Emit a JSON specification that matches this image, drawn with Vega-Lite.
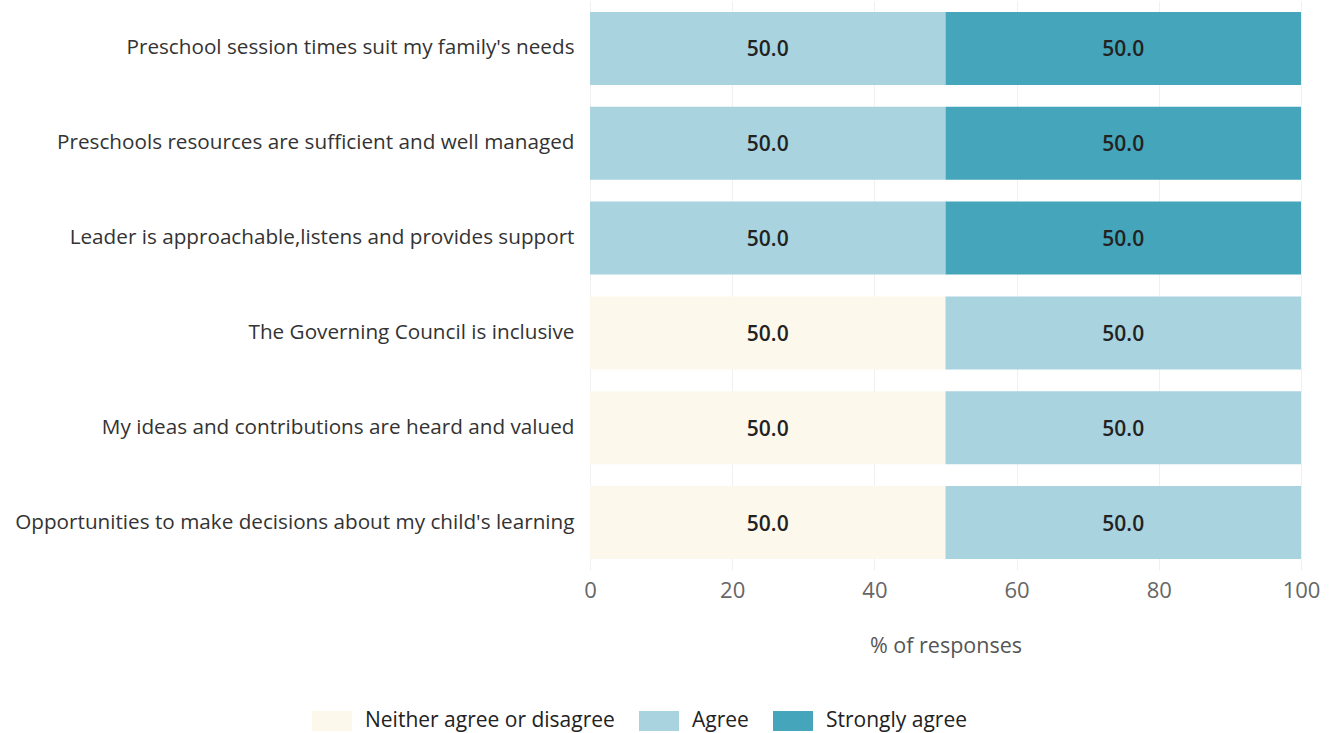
{
  "$schema": "https://vega.github.io/schema/vega-lite/v6.json",
  "autosize": "none",
  "padding": {"left": 590, "top": 1, "right": 35, "bottom": 163},
  "width": 711,
  "height": 569,
  "background": "white",
  "config": {
    "font": "Open Sans",
    "view": {"stroke": null}
  },
  "data": {
    "values": [
      {"statement": "Preschool session times suit my family's needs", "response": "Agree", "order": 2, "value": 50.0},
      {"statement": "Preschool session times suit my family's needs", "response": "Strongly agree", "order": 3, "value": 50.0},
      {"statement": "Preschools resources are sufficient and well managed", "response": "Agree", "order": 2, "value": 50.0},
      {"statement": "Preschools resources are sufficient and well managed", "response": "Strongly agree", "order": 3, "value": 50.0},
      {"statement": "Leader is approachable,listens and provides support", "response": "Agree", "order": 2, "value": 50.0},
      {"statement": "Leader is approachable,listens and provides support", "response": "Strongly agree", "order": 3, "value": 50.0},
      {"statement": "The Governing Council is inclusive", "response": "Neither agree or disagree", "order": 1, "value": 50.0},
      {"statement": "The Governing Council is inclusive", "response": "Agree", "order": 2, "value": 50.0},
      {"statement": "My ideas and contributions are heard and valued", "response": "Neither agree or disagree", "order": 1, "value": 50.0},
      {"statement": "My ideas and contributions are heard and valued", "response": "Agree", "order": 2, "value": 50.0},
      {"statement": "Opportunities to make decisions about my child's learning", "response": "Neither agree or disagree", "order": 1, "value": 50.0},
      {"statement": "Opportunities to make decisions about my child's learning", "response": "Agree", "order": 2, "value": 50.0}
    ]
  },
  "transform": [
    {"stack": "value", "groupby": ["statement"], "sort": [{"field": "order", "order": "ascending"}], "as": ["x0", "x1"]},
    {"calculate": "(datum.x0 + datum.x1) / 2", "as": "xmid"}
  ],
  "encoding": {
    "y": {
      "field": "statement",
      "type": "nominal",
      "sort": null,
      "title": null,
      "scale": {"paddingInner": 0.23, "paddingOuter": 0.115},
      "axis": {
        "domain": false,
        "ticks": false,
        "labelFontSize": 20.7,
        "labelColor": "#333333",
        "labelPadding": 16,
        "labelLimit": 600
      }
    }
  },
  "layer": [
    {
      "mark": {"type": "bar"},
      "encoding": {
        "x": {
          "field": "x0",
          "type": "quantitative",
          "scale": {"domain": [0, 100]},
          "title": "% of responses",
          "axis": {
            "values": [0, 20, 40, 60, 80, 100],
            "domain": false,
            "ticks": false,
            "grid": true,
            "gridColor": "#f0f0f0",
            "labelFontSize": 22,
            "labelColor": "#666666",
            "labelPadding": 10,
            "labelFlush": false,
            "titleFontSize": 21.5,
            "titleFontWeight": "normal",
            "titleColor": "#555555",
            "titlePadding": 34
          }
        },
        "x2": {"field": "x1"},
        "color": {
          "field": "response",
          "type": "nominal",
          "scale": {
            "domain": ["Neither agree or disagree", "Agree", "Strongly agree"],
            "range": ["#fdf8ec", "#a8d3df", "#45a5ba"]
          },
          "legend": {
            "title": null,
            "orient": "none",
            "direction": "horizontal",
            "legendX": -278,
            "legendY": 700,
            "symbolType": "M-1,-0.5H1V0.5H-1Z",
            "symbolSize": 1600,
            "symbolStrokeWidth": 0,
            "symbolOpacity": 1,
            "labelFontSize": 21,
            "labelColor": "#222222",
            "labelOffset": 13,
            "labelLimit": 400,
            "columnPadding": 24
          }
        }
      }
    },
    {
      "mark": {"type": "text", "fontSize": 21, "fontWeight": 600, "color": "#222222", "dy": 2},
      "encoding": {
        "x": {"field": "xmid", "type": "quantitative"},
        "text": {"field": "value", "type": "quantitative", "format": ".1f"}
      }
    }
  ]
}
